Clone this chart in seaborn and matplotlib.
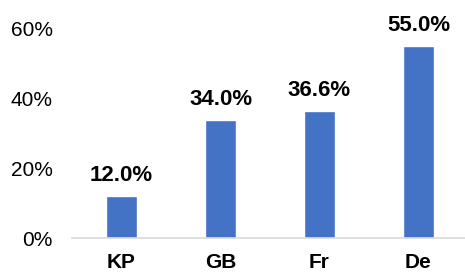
import pandas as pd
import matplotlib
matplotlib.use("Agg")
import matplotlib.pyplot as plt
import seaborn as sns

countries = ["KP", "GB", "Fr", "De"]
shares = [12.0, 34.0, 36.6, 55.0]
y_ticks = [0, 20, 40, 60]

df = pd.DataFrame({"country": countries, "share": shares})

sns.set_style("white")
plt.rcParams["font.family"] = ["Liberation Sans", "DejaVu Sans"]
plt.rcParams["text.color"] = "black"
plt.rcParams["xtick.color"] = "black"
plt.rcParams["ytick.color"] = "black"

fig = plt.figure(figsize=(4.65, 2.72), dpi=100)
# axes spans 72px..468px horizontally, 0% at y=238, 60% at y=29
ax = fig.add_axes([72 / 465, 34 / 272, 396 / 465, 209 / 272])

sns.barplot(data=df, x="country", y="share", color="#4472C4", saturation=1,
            width=0.313, ax=ax)

for i, v in enumerate(shares):
    ax.text(i, v + 4.3, f"{v:.1f}%", ha="center", va="baseline",
            fontsize=16, fontweight="bold", color="black", clip_on=False)

ax.set_ylim(0, 60)
ax.set_xlim(-0.5, 3.5)
ax.set_yticks(y_ticks)
ax.set_yticklabels([f"{t}%" for t in y_ticks], fontsize=15)
ax.tick_params(axis="x", labelsize=15, length=0, pad=11, labelcolor="black")
ax.tick_params(axis="y", length=0, pad=14, labelcolor="black")
for lbl in ax.get_xticklabels():
    lbl.set_fontweight("bold")
ax.set_xlabel("")
ax.set_ylabel("")
sns.despine(ax=ax, left=True, right=True, top=True)
ax.spines["bottom"].set_color("#d9d9d9")
ax.spines["bottom"].set_linewidth(1.2)

fig.savefig("out.png", dpi=100)
